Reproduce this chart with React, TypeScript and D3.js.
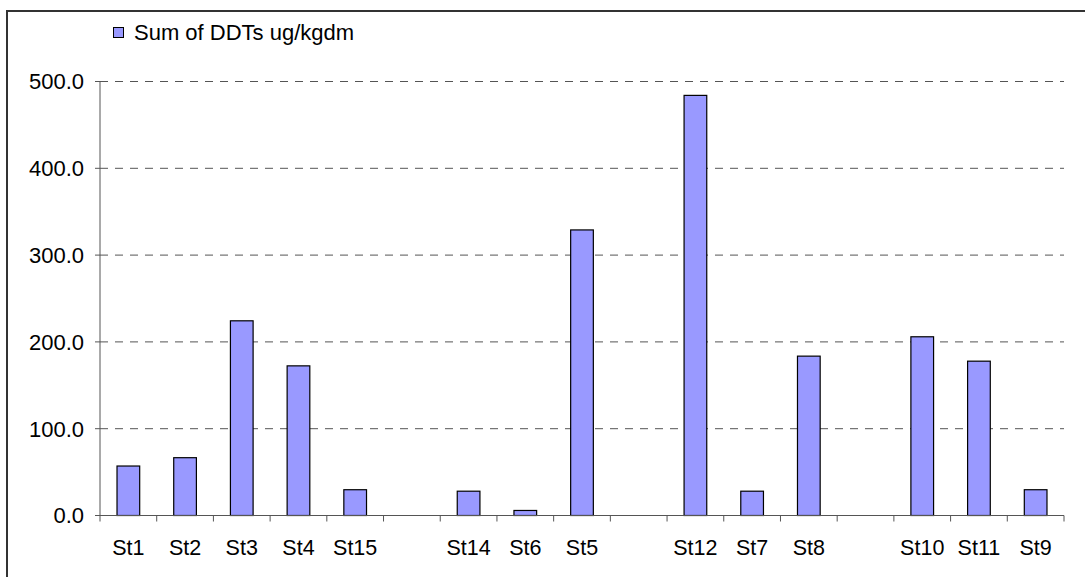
import React from 'react'
import * as d3 from 'd3'

// blank slots in the category list are real gaps on the axis
const categories = ['St1', 'St2', 'St3', 'St4', 'St15', '', 'St14', 'St6', 'St5', '', 'St12', 'St7', 'St8', '', 'St10', 'St11', 'St9']
const ddtValues: (number | null)[] = [57, 66.6, 224.3, 172.4, 29.7, null, 28, 5.8, 329, null, 484, 28, 183.6, null, 205.9, 177.8, 29.7]
const yTicks = [0, 100, 200, 300, 400, 500]
const seriesName = 'Sum of DDTs ug/kgdm'

const W = 1085
const H = 577
const left = 100
const right = 1064
const font = '"Liberation Sans", Arial, sans-serif'

const App = () => {
  const idx = categories.map((_, i) => i)
  const x = d3.scaleBand<number>().domain(idx).range([left, right]).paddingInner(0).paddingOuter(0)
  const y = d3.scaleLinear().domain([0, 500]).range([515.5, 81.5])
  const bw = x.bandwidth() * 0.4
  const y0 = y(0)
  const bounds = d3.range(categories.length + 1).map((i) => left + i * x.bandwidth())

  return (
    <svg width={W} height={H} style={{ position: 'absolute', left: 0, top: 0, display: 'block' }} fontFamily={font}>
      <rect x={0} y={0} width={W} height={H} fill="white" />
      <rect x={7} y={11} width={1100} height={600} fill="none" stroke="#333" strokeWidth={2} />

      {/* gridlines */}
      {yTicks.filter((t) => t > 0).map((t) => (
        <line key={t} x1={left} x2={right} y1={y(t)} y2={y(t)} stroke="#555" strokeDasharray="8,7" />
      ))}

      {/* bars */}
      {ddtValues.map((v, i) =>
        v == null ? null : (
          <rect
            key={i}
            x={x(i)! + (x.bandwidth() - bw) / 2}
            y={y(v)}
            width={bw}
            height={y0 - y(v)}
            fill="#9999FF"
            stroke="#000"
            strokeWidth={1.2}
          />
        )
      )}

      {/* y axis */}
      <line x1={left} x2={left} y1={y(500)} y2={y0} stroke="#555" />
      {yTicks.map((t) => (
        <g key={t}>
          <line x1={left - 5} x2={left} y1={y(t)} y2={y(t)} stroke="#555" />
          <text x={84} y={y(t)} dy="0.36em" textAnchor="end" fontSize={22} fill="#000">
            {d3.format('.1f')(t)}
          </text>
        </g>
      ))}

      {/* x axis */}
      <line x1={left} x2={right} y1={y0} y2={y0} stroke="#555" />
      {bounds.map((b, i) => (
        <line key={i} x1={b} x2={b} y1={y0} y2={y0 + 6} stroke="#555" />
      ))}
      {categories.map((c, i) => (
        <text key={i} x={x(i)! + x.bandwidth() / 2} y={555} textAnchor="middle" fontSize={21.5} fill="#000">
          {c}
        </text>
      ))}

      {/* legend */}
      <rect x={113.5} y={27.5} width={10} height={10} fill="#9999FF" stroke="#000" />
      <text x={134} y={40} fontSize={22} fill="#000">
        {seriesName}
      </text>
    </svg>
  )
}

export default App
